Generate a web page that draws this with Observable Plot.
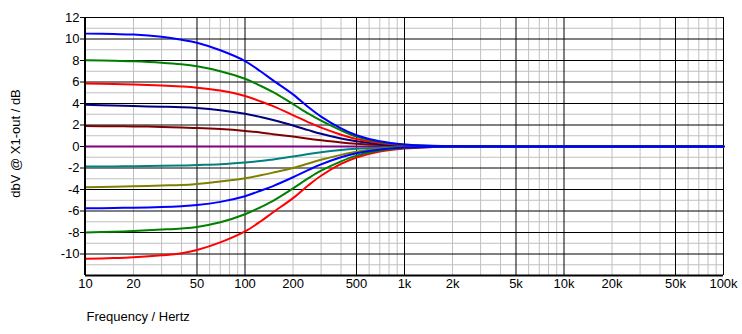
<!DOCTYPE html>
<html><head><meta charset="utf-8">
<script src="https://cdn.jsdelivr.net/npm/d3@7"></script>
<script src="https://cdn.jsdelivr.net/npm/@observablehq/plot@0.6"></script>
<style>
html,body{margin:0;padding:0;background:#fff;}
#chart{width:742px;height:334px;}
</style></head><body><div id="chart"></div>
<script>
// Frequencies (Hz) at which the curves were read
const freqs = [10, 15, 20, 30, 40, 50, 70, 100, 125, 150, 200, 250, 300, 400, 500, 700, 1000, 1500, 2000, 100000];

// Curve values (dB)
const boost105 = [10.5, 10.46, 10.41, 10.2, 9.93, 9.65, 8.95, 7.95, 7.0, 6.15, 4.85, 3.65, 2.78, 1.68, 1.05, 0.48, 0.19, 0.06, 0.02, 0];
const boost8   = [8.02, 7.98, 7.93, 7.8, 7.65, 7.46, 7.0, 6.3, 5.65, 5.05, 3.95, 3.05, 2.4, 1.5, 0.92, 0.42, 0.16, 0.05, 0.02, 0];
const boost6   = [5.85, 5.81, 5.77, 5.68, 5.58, 5.47, 5.2, 4.7, 4.2, 3.75, 2.92, 2.25, 1.75, 1.1, 0.7, 0.33, 0.12, 0.04, 0.01, 0];
const boost4   = [3.89, 3.81, 3.76, 3.7, 3.65, 3.58, 3.38, 3.05, 2.75, 2.46, 1.96, 1.52, 1.18, 0.74, 0.48, 0.22, 0.08, 0.03, 0.01, 0];
const boost2   = [1.9, 1.88, 1.87, 1.82, 1.76, 1.72, 1.62, 1.45, 1.3, 1.15, 0.92, 0.72, 0.58, 0.38, 0.26, 0.13, 0.05, 0.02, 0, 0];
const flat0    = [0, 0, 0, 0, 0, 0, 0, 0, 0, 0, 0, 0, 0, 0, 0, 0, 0, 0, 0, 0];
const cut2     = [-1.87, -1.85, -1.83, -1.8, -1.77, -1.72, -1.64, -1.48, -1.35, -1.2, -0.94, -0.7, -0.53, -0.33, -0.22, -0.11, -0.04, -0.01, 0, 0];
const cut4     = [-3.79, -3.74, -3.7, -3.63, -3.58, -3.48, -3.25, -2.95, -2.68, -2.43, -2.0, -1.58, -1.24, -0.78, -0.49, -0.22, -0.08, -0.02, 0, 0];
const cut6     = [-5.75, -5.72, -5.69, -5.63, -5.55, -5.45, -5.15, -4.62, -4.12, -3.68, -2.86, -2.18, -1.66, -1.0, -0.62, -0.28, -0.1, -0.03, -0.01, 0];
const cut8     = [-7.99, -7.93, -7.86, -7.73, -7.62, -7.48, -7.05, -6.3, -5.65, -5.05, -3.9, -2.95, -2.25, -1.38, -0.85, -0.38, -0.14, -0.04, -0.01, 0];
const cut10    = [-10.45, -10.38, -10.3, -10.12, -9.92, -9.62, -8.92, -7.9, -6.98, -6.12, -4.8, -3.6, -2.72, -1.62, -1.02, -0.46, -0.18, -0.05, -0.01, 0];

// Series names and colours (draw order: last one on top)
const seriesNames  = ["0", "+2", "-2", "+4", "-4", "+6", "-10", "+8", "-8", "-6", "+10"];
const seriesValues = [flat0, boost2, cut2, boost4, cut4, boost6, cut10, boost8, cut8, cut6, boost105];
const seriesColors = ["#800080", "#800000", "#008080", "#000080", "#808000", "#ff0000", "#ff0000", "#008000", "#008000", "#0000ff", "#0000ff"];

// Axis ticks
const xTicks = [10, 20, 50, 100, 200, 500, 1000, 2000, 5000, 10000, 20000, 50000, 100000];
const xTickLabels = ["10", "20", "50", "100", "200", "500", "1k", "2k", "5k", "10k", "20k", "50k", "100k"];
const yTicks = [-10, -8, -6, -4, -2, 0, 2, 4, 6, 8, 10, 12];

// Build tables
const rows = [];
seriesNames.forEach((name, i) => {
  freqs.forEach((f, j) => rows.push({series: name, order: i, f, v: seriesValues[i][j]}));
});
const decades = [10, 100, 1000, 10000];
const gridMajorX = [], gridMinorX = [];
decades.forEach(d => { for (let m = 1; m <= 9; m++) { const f = d * m; (m === 1 || m === 5 ? gridMajorX : gridMinorX).push(f); } });
const gridMajorY = d3.range(-10, 12, 2);
const gridMinorY = d3.range(-11, 12, 2);
const xTickTable = xTicks.map((f, i) => ({f, label: xTickLabels[i]}));

const font = "'Liberation Sans', Arial, sans-serif";

const chart = Plot.plot({
  width: 742,
  height: 334,
  marginLeft: 85,
  marginRight: 19,
  marginTop: 17,
  marginBottom: 59,
  style: {fontFamily: font, fontSize: "13px", color: "black", background: "white"},
  x: {type: "log", domain: [10, 100000], axis: null},
  y: {domain: [-12, 12], axis: null},
  marks: [
    Plot.ruleX(gridMinorX, {stroke: "#c0c0c0", strokeWidth: 1}),
    Plot.ruleY(gridMinorY, {stroke: "#c0c0c0", strokeWidth: 1}),
    Plot.ruleX(gridMajorX, {stroke: "black", strokeWidth: 1}),
    Plot.ruleY(gridMajorY, {stroke: "black", strokeWidth: 1}),
    Plot.ruleX([100000], {stroke: "black", strokeWidth: 1}),
    Plot.ruleY([12], {stroke: "black", strokeWidth: 1}),
    ...seriesNames.map((name, i) => Plot.line(rows.filter(r => r.series === name), {
      x: "f", y: "v", stroke: seriesColors[i], strokeWidth: 2, curve: "catmull-rom"
    })),
    Plot.ruleX([10], {stroke: "black", strokeWidth: 2, dx: -0.5}),
    Plot.ruleY([-12], {stroke: "black", strokeWidth: 2}),
    Plot.text(xTickTable, {x: "f", text: "label", frameAnchor: "bottom", lineAnchor: "top", dy: 3, fill: "black", fontSize: 13}),
    Plot.axisY(yTicks, {tickSize: 5, tickPadding: 1, tickFormat: d => String(d), label: null, fontSize: 13}),
    Plot.text(["dbV @ X1-out / dB"], {frameAnchor: "left", rotate: -90, dx: -70, dy: -3, textAnchor: "middle", lineAnchor: "middle", fill: "black", fontSize: 13}),
    Plot.text(["Frequency / Hertz"], {frameAnchor: "bottom-left", textAnchor: "start", lineAnchor: "top", dx: 1, dy: 36, fill: "black", fontSize: 13})
  ]
});
document.getElementById("chart").appendChild(chart);
</script>
</body></html>
